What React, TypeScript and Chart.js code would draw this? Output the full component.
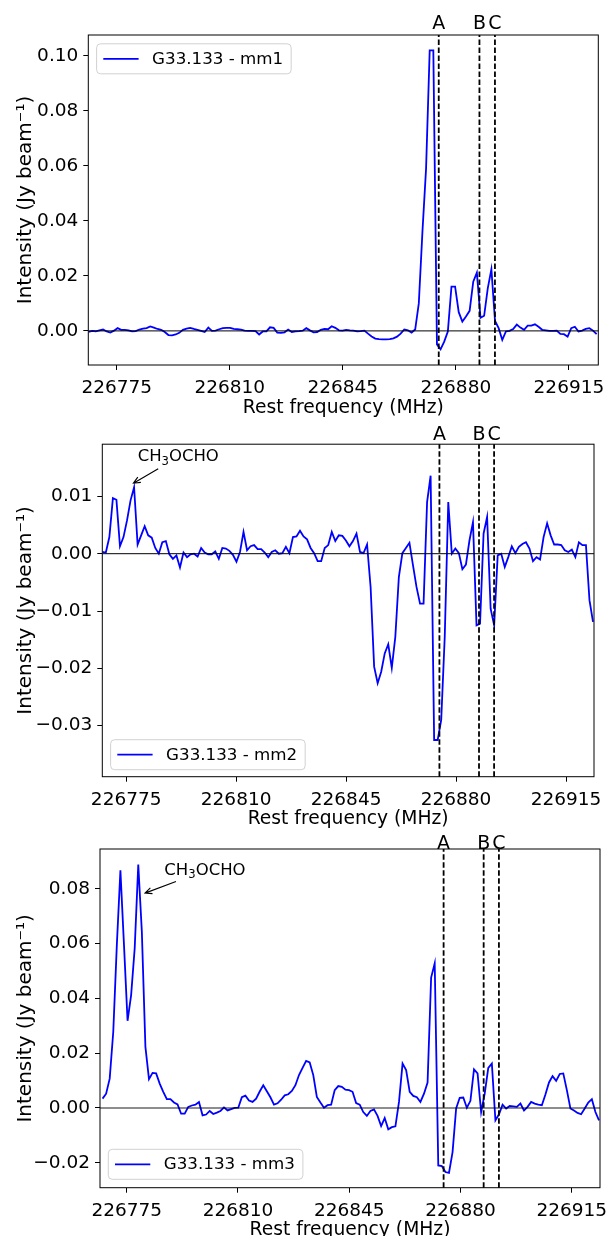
import React, { useEffect, useRef } from "react";
import { Chart, registerables } from "chart.js";

Chart.register(...registerables);

const FONT = "DejaVu Sans";

// Spectral channel grid (MHz)
const CHANNEL_START = 226766.28;
const CHANNEL_WIDTH = 1.1236;

// x tick labels (MHz)
const FREQ_TICKS = [226775, 226810, 226845, 226880, 226915];

// marked transitions
const LINE_LABELS = ["A", "B", "C"];
const LINE_FREQS = [226874.7, 226887.3, 226892.1];

// G33.133 - mm1 (Jy beam^-1), channels 0..140
const MM1 = [
  -0.0004, 0, -0.0002, 0.0002, 0.0005, -0.0002, -0.0006, 0.0001, 0.001, 0.0004,
  0.0004, 0.0002, -0.0002, -0.0001, 0.0005, 0.0008, 0.001, 0.0016, 0.0012, 0.0007,
  0.0004, -0.0004, -0.0015, -0.0016, -0.0013, -0.0007, 0.0004, 0.0008, 0.0011, 0.0007,
  0.0004, 0, -0.0004, 0.0012, 0, 0.0001, 0.0006, 0.001, 0.0011, 0.0011,
  0.0007, 0.0006, 0.0005, 0.0001, 0, 0, -0.0001, -0.0013, -0.0002, -0.0002,
  0.0013, 0.0011, -0.0006, -0.0007, -0.0005, 0.0005, -0.0004, -0.0002, -0.0001, 0.0001,
  0.001, 0.0002, -0.0005, -0.0004, 0.0004, 0.0007, 0.0006, 0.0017, 0.0011, 0.0002,
  0.0001, 0.0004, 0.0002, 0.0001, -0.0002, -0.0001, 0.0001, -0.001, -0.002, -0.0028,
  -0.003, -0.0031, -0.0031, -0.003, -0.0027, -0.0021, -0.001, 0.0005, 0.0002, -0.0006,
  0.0005, 0.01, 0.036, 0.059, 0.102, 0.102, -0.0049, -0.0067, -0.0039, -0.0002,
  0.0161, 0.0161, 0.0068, 0.0034, 0.0052, 0.0073, 0.0179, 0.0212, 0.0048, 0.0055,
  0.0155, 0.0224, 0.0036, 0.001, -0.0033, -0.0002, 0, 0.0007, 0.0023, 0.0012,
  0.0004, 0.0019, 0.0019, 0.0024, 0.0015, 0.0004, 0.0002, 0, 0, 0.0001,
  -0.0011, -0.0012, -0.0021, 0.001, 0.0015, -0.0002, 0.0001, 0.0007, 0.001, 0.0001,
  -0.0012,
];

// G33.133 - mm2 (Jy beam^-1), channels 1..140
const MM2 = [
  0.0003, 0.0002, 0.0029, 0.0097, 0.0094, 0.0013, 0.0029, 0.0058, 0.0093, 0.0116,
  0.0016, 0.0032, 0.0048, 0.0032, 0.0028, 0.001, 0, 0.002, 0.0022, -0.0001,
  -0.0009, -0.0003, -0.0024, 0.0002, -0.0006, -0.0001, 0, -0.0005, 0.001, 0.0002,
  -0.0001, -0.0001, 0.0004, -0.0009, 0.001, 0.0009, 0.0005, -0.0002, -0.0014, 0.0003,
  0.0038, 0.0006, 0.0013, 0.0015, 0.0008, 0.0008, 0.0002, -0.0006, 0.0003, 0.0006,
  0, 0.0001, 0.0012, 0.0001, 0.0029, 0.003, 0.004, 0.003, 0.0025, 0.001,
  0.0001, -0.0013, -0.0013, 0.001, 0.0015, 0.0038, 0.0022, 0.0032, 0.0031, 0.0023,
  0.0013, 0.0022, 0.0035, 0.0003, 0.0001, 0.0016, -0.0058, -0.0197, -0.0226, -0.0206,
  -0.0174, -0.0158, -0.0199, -0.0145, -0.0041, 0.0001, 0.001, 0.0019, -0.002, -0.0058,
  -0.0087, -0.0087, 0.009, 0.0136, -0.0325, -0.0325, -0.029, -0.0145, 0.009, 0,
  0.0009, 0.0001, -0.0027, -0.0019, 0.0023, 0.0055, -0.0125, -0.0122, 0.0035, 0.0064,
  -0.0096, -0.0125, -0.0003, 0, -0.0023, -0.0006, 0.0013, 0.0001, 0.0012, 0.0017,
  0.002, 0.0009, -0.0013, -0.0006, -0.001, 0.0029, 0.0053, 0.0032, 0.0016, 0.0016,
  0.0015, 0.0006, 0.0003, 0.0007, -0.0006, 0.002, 0.0015, 0.0015, -0.0081, -0.0119,
];

// G33.133 - mm3 (Jy beam^-1), channels 1..140
const MM3 = [
  0.0034, 0.0052, 0.0107, 0.0278, 0.0595, 0.0867, 0.0595, 0.0318, 0.0412, 0.0583,
  0.0888, 0.0644, 0.0223, 0.0105, 0.0128, 0.0126, 0.0089, 0.0059, 0.0032, 0.0032,
  0.002, 0.0013, -0.0021, -0.0021, 0.0004, 0.0009, 0.0012, 0.0022, -0.0027, -0.0024,
  -0.0011, -0.0022, -0.0017, -0.0011, 0.0002, -0.0009, -0.0004, 0, 0.0001, 0.0039,
  0.0045, 0.0027, 0.0022, 0.0034, 0.006, 0.0083, 0.0061, 0.0039, 0.0012, 0.0017,
  0.003, 0.0046, 0.005, 0.0062, 0.0083, 0.012, 0.0146, 0.0172, 0.0166, 0.012,
  0.004, 0.002, 0.0001, 0.001, 0.0012, 0.0065, 0.008, 0.0077, 0.0067, 0.0065,
  0.0059, 0.0018, 0.0012, -0.0015, -0.0029, -0.0011, -0.0005, -0.0029, -0.0066, -0.0037,
  -0.0078, -0.007, -0.0067, 0.0022, 0.0162, 0.0138, 0.0059, 0.0044, 0.0039, 0.0022,
  0.0052, 0.0093, 0.0476, 0.0528, -0.021, -0.0212, -0.0234, -0.0237, -0.0161, -0.0002,
  0.0037, 0.0038, 0.0001, 0.0026, 0.0141, 0.0126, -0.0015, 0.0052, 0.0146, 0.0162,
  -0.0045, -0.0023, 0.0012, -0.0002, 0.0007, 0.0006, 0.0004, 0.0016, -0.0009, 0.0004,
  0.0022, 0.0016, 0.0012, 0.001, 0.0049, 0.0093, 0.0116, 0.0099, 0.0124, 0.0126,
  0.0065, -0.0002, -0.0009, -0.0018, -0.0023, -0.0002, 0.002, 0.0032, -0.0015, -0.0045,
];

// y tick values per panel
const MM1_YTICKS = [0, 0.02, 0.04, 0.06, 0.08, 0.1];
const MM2_YTICKS = [-0.03, -0.02, -0.01, 0, 0.01];
const MM3_YTICKS = [-0.02, 0, 0.02, 0.04, 0.06, 0.08];

const SERIES_LABELS = ["G33.133 - mm1", "G33.133 - mm2", "G33.133 - mm3"];
const X_TITLE = "Rest frequency (MHz)";
const Y_TITLE = "Intensity (Jy beam\u207B\u00B9)";

// panel geometry / styling
type Annot = { textF: number; textV: number; tailF: number; tailV: number; tipF: number; tipV: number };
type Panel = {
  values: number[];
  firstChannel: number;
  yTicks: number[];
  label: string;
  xMin: number; xMax: number; yMin: number; yMax: number;
  top: number; height: number;
  padTop: number; padRight: number; yAxisW: number; plotBottom: number;
  letterGap: number;
  legendUpper: boolean; legendGap: number;
  zeroColor: string; zeroWidth: number;
  annot: Annot | null;
};

const PANELS: Panel[] = [
  {
    values: MM1, firstChannel: 0, yTicks: MM1_YTICKS, label: SERIES_LABELS[0],
    xMin: 226766.2, xMax: 226924.1, yMin: -0.0124, yMax: 0.1076,
    top: 0, height: 430, padTop: 35, padRight: 9.7, yAxisW: 88.3, plotBottom: 365,
    letterGap: 6.5, legendUpper: true, legendGap: 8.8, zeroColor: "#000", zeroWidth: 1,
    annot: null,
  },
  {
    values: MM2, firstChannel: 1, yTicks: MM2_YTICKS, label: SERIES_LABELS[1],
    xMin: 226767.4, xMax: 226923.9, yMin: -0.0389, yMax: 0.0191,
    top: 412, height: 430, padTop: 32.2, padRight: 14, yAxisW: 102.3, plotBottom: 776.7,
    letterGap: 4.5, legendUpper: false, legendGap: 7, zeroColor: "#000", zeroWidth: 1,
    annot: { textF: 226778.65, textV: 0.0161, tailF: 226785.2, tailV: 0.0148, tipF: 226777.3, tipV: 0.0123 },
  },
  {
    values: MM3, firstChannel: 1, yTicks: MM3_YTICKS, label: SERIES_LABELS[2],
    xMin: 226766.6, xMax: 226923.9, yMin: -0.0291, yMax: 0.0945,
    top: 824, height: 412, padTop: 25, padRight: 8, yAxisW: 100, plotBottom: 1187.7,
    letterGap: 0.5, legendUpper: false, legendGap: 8.4, zeroColor: "rgba(0,0,0,0.6)", zeroWidth: 1.6,
    annot: { textF: 226786.84, textV: 0.0851, tailF: 226790.5, tailV: 0.0826, tipF: 226780.76, tipV: 0.0784 },
  },
];

function fmtY(v: number): string {
  const a = Math.abs(v) < 1e-9 ? 0 : v;
  const s = Math.abs(a).toFixed(2);
  return a < 0 ? "\u2212" + s : s;
}

function makePoints(values: number[], firstChannel: number) {
  return values.map((v, k) => ({ x: CHANNEL_START + (firstChannel + k) * CHANNEL_WIDTH, y: v }));
}

function roundRectPath(ctx: CanvasRenderingContext2D, x: number, y: number, w: number, h: number, r: number) {
  ctx.beginPath();
  ctx.moveTo(x + r, y);
  ctx.lineTo(x + w - r, y);
  ctx.quadraticCurveTo(x + w, y, x + w, y + r);
  ctx.lineTo(x + w, y + h - r);
  ctx.quadraticCurveTo(x + w, y + h, x + w - r, y + h);
  ctx.lineTo(x + r, y + h);
  ctx.quadraticCurveTo(x, y + h, x, y + h - r);
  ctx.lineTo(x, y + r);
  ctx.quadraticCurveTo(x, y, x + r, y);
  ctx.closePath();
}

const overlayPlugin = {
  id: "overlay",
  afterDatasetsDraw(chart: any, _args: any, opts: any) {
    const p: Panel = opts.panel;
    const { ctx, chartArea: a, scales } = chart;
    const xs = scales.x;
    const ys = scales.y;
    ctx.save();

    // zero line
    const y0 = ys.getPixelForValue(0);
    ctx.strokeStyle = p.zeroColor;
    ctx.lineWidth = p.zeroWidth;
    ctx.beginPath();
    ctx.moveTo(a.left, y0);
    ctx.lineTo(a.right, y0);
    ctx.stroke();

    // dashed transition lines
    ctx.strokeStyle = "#000";
    ctx.lineWidth = 1.8;
    ctx.setLineDash([5.5, 2.5]);
    LINE_FREQS.forEach((f) => {
      const x = xs.getPixelForValue(f);
      ctx.beginPath();
      ctx.moveTo(x, a.bottom);
      ctx.lineTo(x, a.top);
      ctx.stroke();
    });
    ctx.setLineDash([]);

    // frame
    ctx.lineWidth = 1;
    ctx.strokeStyle = "#000";
    ctx.strokeRect(a.left, a.top, a.right - a.left, a.bottom - a.top);

    // A B C labels
    ctx.fillStyle = "#000";
    ctx.font = `19px "${FONT}"`;
    ctx.textAlign = "center";
    ctx.textBaseline = "alphabetic";
    LINE_LABELS.forEach((t, i) => {
      ctx.fillText(t, xs.getPixelForValue(LINE_FREQS[i]), a.top - p.letterGap);
    });

    // axis titles
    ctx.font = `18.7px "${FONT}"`;
    ctx.textAlign = "center";
    ctx.textBaseline = "alphabetic";
    ctx.fillText(X_TITLE, (a.left + a.right) / 2, a.bottom + 47.5);
    ctx.save();
    ctx.font = `20px "${FONT}"`;
    ctx.translate(30.5, (a.top + a.bottom) / 2);
    ctx.rotate(-Math.PI / 2);
    ctx.fillText(Y_TITLE, 0, 0);
    ctx.restore();

    // annotation
    if (p.annot) {
      const an = p.annot;
      const tx = xs.getPixelForValue(an.textF);
      const ty = ys.getPixelForValue(an.textV);
      ctx.textAlign = "left";
      ctx.textBaseline = "alphabetic";
      let x = tx;
      ctx.font = `16.5px "${FONT}"`;
      ctx.fillText("CH", x, ty);
      x += ctx.measureText("CH").width;
      ctx.font = `11.6px "${FONT}"`;
      ctx.fillText("3", x, ty + 3.5);
      x += ctx.measureText("3").width;
      ctx.font = `16.5px "${FONT}"`;
      ctx.fillText("OCHO", x, ty);

      const x1 = xs.getPixelForValue(an.tailF);
      const y1 = ys.getPixelForValue(an.tailV);
      const x2 = xs.getPixelForValue(an.tipF);
      const y2 = ys.getPixelForValue(an.tipV);
      const th = Math.atan2(y2 - y1, x2 - x1);
      const L = 7.5;
      ctx.strokeStyle = "#000";
      ctx.lineWidth = 1.1;
      ctx.beginPath();
      ctx.moveTo(x1, y1);
      ctx.lineTo(x2, y2);
      ctx.moveTo(x2 - L * Math.cos(th - 0.42), y2 - L * Math.sin(th - 0.42));
      ctx.lineTo(x2, y2);
      ctx.lineTo(x2 - L * Math.cos(th + 0.42), y2 - L * Math.sin(th + 0.42));
      ctx.stroke();
    }

    // legend
    ctx.font = `16.7px "${FONT}"`;
    const tw = ctx.measureText(p.label).width;
    const lw = 55.5 + tw + 8;
    const lh = 30;
    const lx = a.left + 8.3;
    const ly = p.legendUpper ? a.top + p.legendGap : a.bottom - p.legendGap - lh;
    roundRectPath(ctx, lx, ly, lw, lh, 4);
    ctx.fillStyle = "rgba(255,255,255,0.8)";
    ctx.fill();
    ctx.strokeStyle = "rgba(204,204,204,0.9)";
    ctx.lineWidth = 1;
    ctx.stroke();
    ctx.strokeStyle = "#0000ff";
    ctx.lineWidth = 1.8;
    ctx.beginPath();
    ctx.moveTo(lx + 6.7, ly + lh / 2);
    ctx.lineTo(lx + 42, ly + lh / 2);
    ctx.stroke();
    ctx.fillStyle = "#000";
    ctx.textAlign = "left";
    ctx.textBaseline = "middle";
    ctx.fillText(p.label, lx + 55.5, ly + lh / 2 + 0.5);

    ctx.restore();
  },
};

function SpectrumPanel({ panel }: { panel: Panel }) {
  const ref = useRef<HTMLCanvasElement | null>(null);
  useEffect(() => {
    if (!ref.current) return;
    const p = panel;
    const xAxisH = p.top + p.height - p.plotBottom;
    const chart = new Chart(ref.current, {
      type: "line",
      data: {
        datasets: [
          {
            label: p.label,
            data: makePoints(p.values, p.firstChannel),
            borderColor: "#0000ff",
            borderWidth: 1.8,
            pointRadius: 0,
            tension: 0,
            fill: false,
          },
        ],
      },
      options: {
        animation: false,
        responsive: false,
        devicePixelRatio: 1,
        events: [],
        layout: { padding: { top: p.padTop, right: p.padRight, left: 0, bottom: 0 } },
        plugins: {
          legend: { display: false },
          tooltip: { enabled: false },
          overlay: { panel: p },
        } as any,
        scales: {
          x: {
            type: "linear",
            min: p.xMin,
            max: p.xMax,
            afterBuildTicks: (s: any) => {
              s.ticks = FREQ_TICKS.map((v) => ({ value: v }));
            },
            afterFit: (s: any) => {
              s.height = xAxisH;
              s.paddingLeft = 0;
              s.paddingRight = 0;
            },
            ticks: {
              autoSkip: false,
              maxRotation: 0,
              minRotation: 0,
              padding: 7,
              color: "#000",
              font: { family: FONT, size: 18.5 },
              callback: (v: any) => String(v),
            },
            grid: { display: true, drawOnChartArea: false, drawTicks: true, tickLength: 5, color: "#000", lineWidth: 1 },
            border: { display: false },
            title: { display: false, text: X_TITLE },
          },
          y: {
            type: "linear",
            min: p.yMin,
            max: p.yMax,
            afterBuildTicks: (s: any) => {
              s.ticks = p.yTicks.map((v) => ({ value: v }));
            },
            afterFit: (s: any) => {
              s.width = p.yAxisW;
              s.paddingTop = 0;
              s.paddingBottom = 0;
            },
            ticks: {
              autoSkip: false,
              padding: 5,
              color: "#000",
              font: { family: FONT, size: 18.5 },
              callback: (v: any) => fmtY(Number(v)),
            },
            grid: { display: true, drawOnChartArea: false, drawTicks: true, tickLength: 5, color: "#000", lineWidth: 1 },
            border: { display: false },
            title: { display: false, text: Y_TITLE },
          },
        },
      },
      plugins: [overlayPlugin],
    } as any);
    return () => chart.destroy();
  }, [panel]);
  return (
    <canvas
      ref={ref}
      width={608}
      height={panel.height}
      style={{ position: "absolute", left: 0, top: panel.top, width: 608, height: panel.height, display: "block" }}
    />
  );
}

export default function App() {
  return (
    <div style={{ position: "absolute", left: 0, top: 0, width: 608, height: 1236, background: "#fff", overflow: "hidden" }}>
      {PANELS.map((p, i) => (
        <SpectrumPanel key={i} panel={p} />
      ))}
    </div>
  );
}
